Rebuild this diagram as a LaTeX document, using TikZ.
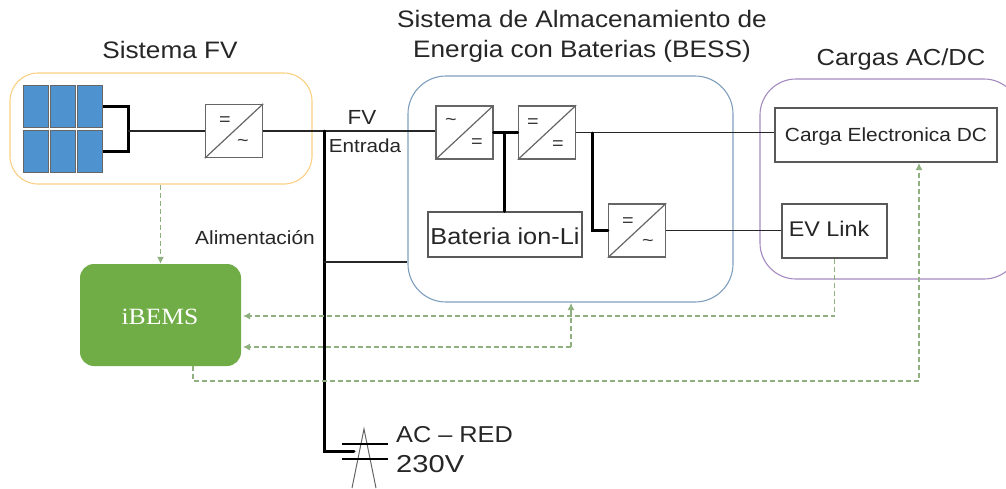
\documentclass[tikz,border=0pt]{standalone}
\usepackage{fontspec}
\setmainfont[FakeStretch=1.1]{Liberation Sans}
\newfontfamily\emsfont[FakeStretch=1.1]{Liberation Serif}
\usepackage{tikz}
\usetikzlibrary{arrows,arrows.meta,positioning}

\definecolor{fvorange}{HTML}{FBCF83}
\definecolor{bessblue}{HTML}{7F9FBE}
\definecolor{loadpurple}{HTML}{A58BC0}
\definecolor{emsgreen}{HTML}{70AD47}
\definecolor{sigreen}{HTML}{5F9048}
\definecolor{panelblue}{HTML}{4F92D0}

\tikzset{
  group/.style={draw=#1,line width=1.1pt,rounded corners=28pt},
  conv/.style={draw=black!60,line width=1.4pt,fill=white,minimum width=57pt,minimum height=53pt,inner sep=0pt},
  load/.style={draw=black!65,line width=1.5pt,fill=white,inner sep=0pt},
  panel/.style={draw=black!60,line width=1pt,fill=panelblue,minimum width=25pt,minimum height=42pt,inner sep=0pt},
  symb/.style={font=\fontsize{18}{18}\selectfont,inner sep=0pt,text=black!80},
  wire/.style={line width=1.5pt,black!85},
  bus/.style={line width=3pt,black,line cap=round},
  signal/.style={dash pattern=on 5pt off 3pt,sigreen!70,line width=1.1pt,-{Latex[length=7pt,width=7pt]}},
  lab/.style={inner sep=0pt,align=center,text=black!85,font=\fontsize{#1}{#1}\selectfont}
}

\begin{document}
\begin{tikzpicture}[x=1pt,y=-1pt]
  \useasboundingbox (0,0) rectangle (1006,488);

  % group frames
  \node[group=fvorange,minimum width=302pt,minimum height=111pt,inner sep=0pt] (fvgroup) at (161,128.5) {};
  \node[group=bessblue,minimum width=325pt,minimum height=226pt,inner sep=0pt,rounded corners=38pt] (bessgroup) at (570.5,189) {};
  \node[group=loadpurple,minimum width=260pt,minimum height=200pt,inner sep=0pt,rounded corners=36pt] (loadgroup) at (890,179) {};

  % titles
  \node[lab=23.8] (fvtitle) at (170,50) {Sistema FV};
  \node[lab=23.8] (besstitle) at (582,36) {Sistema de Almacenamiento de\\[6pt]Energia con Baterias (BESS)};
  \node[lab=23.2] (loadtitle) at (901,59) {Cargas AC/DC};

  % panels
  \foreach \c/\px in {1/35.5,2/62.5,3/90}
    \foreach \r/\py in {1/106,2/151}
      \node[panel] (panel-\c-\r) at (\px,\py) {};

  % converters
  \node[conv] (pvconv) at (234,131) {};
  \node[conv] (acdc) at (464.5,132.5) {};
  \node[conv,right=24pt of acdc] (dcdc) {};
  \node[conv] (dcac) at (637,230.5) {};
  \foreach \n in {pvconv,acdc,dcdc,dcac}
    \draw[black!60,line width=1.2pt] (\n.south west) -- (\n.north east);

  \node[symb] (pvin) at (225,121) {=};
  \node[symb] (pvout) at (243,143) {\textasciitilde};
  \node[symb] (acdcin) at (451,122) {\textasciitilde};
  \node[symb] (acdcout) at (477,143) {=};
  \node[symb] (dcdcin) at (533,123) {=};
  \node[symb] (dcdcout) at (558,145) {=};
  \node[symb] (dcacin) at (628,222) {=};
  \node[symb] (dcacout) at (648,243) {\textasciitilde};

  % boxes
  \node[load,minimum width=154pt,minimum height=45pt] (batt) at (505,234.5) {};
  \node[lab=23] (batttext) at (505,236.5) {Bateria ion-Li};
  \node[load,minimum width=222pt,minimum height=54pt] (dcload) at (886,135) {};
  \node[lab=19] (dcloadtext) at (886,137) {Carga Electronica DC};
  \node[load,minimum width=105pt,minimum height=54pt] (evlink) at (834.5,231) {};
  \node[lab=21.2] (evtext) at (829,229) {EV Link};
  \node[fill=emsgreen,rounded corners=14pt,minimum width=161pt,minimum height=102pt] (ibems) at (160.5,315) {};
  \node[text=white,inner sep=0pt,font=\emsfont\fontsize{23.3}{23.3}\selectfont] (ibemstext) at (160,317) {iBEMS};

  % helper points
  \coordinate (pvjoin) at (128,131);
  \coordinate (bustop) at (324,131);
  \coordinate (busmid) at (324,262);
  \coordinate (busend) at (354,451);
  \coordinate (dcjoin) at (504,133);
  \coordinate (acjoin) at (592,133);

  % power lines
  \draw[bus,line cap=butt] (panel-3-1.east) -| (pvjoin) |- (panel-3-2.east);
  \draw[wire] (pvjoin) -- (pvconv.west);
  \draw[wire] (pvconv.east) -- (bustop) -- (bustop -| acdc.west);
  \draw[bus] (bustop) |- (busend);
  \draw[wire] (busmid) -- (busmid -| bessgroup.west);
  \draw[bus] (acdc.east) -- (dcdc.west);
  \draw[bus] (dcjoin) -- (dcjoin |- batt.north);
  \draw[wire] (dcdc.east) -- (dcdc.east -| dcload.west);
  \draw[bus] (acjoin) |- (dcac.west);
  \draw[wire] (dcac.east) -- (dcac.east -| evlink.west);

  % signals
  \draw[signal] (fvgroup.south -| ibems) -- (ibems.north);
  \draw[signal] (evlink.south) |- (243,316);
  \draw[signal] (571,347) -- (571,303);
  \draw[signal] (571,347) -- (243,347);
  \draw[signal] (193,366) |- (919,381) -- (919,163);

  % grid tower
  \coordinate (towertop) at (364,429);
  \draw[black!60,line width=1pt] (352,488) -- (towertop) -- (376,488);
  \draw[black,line width=1.2pt] (342,444) -- (388,444) (342,459) -- (388,459);

  % remaining labels
  \node[lab=20.4] (fvlab) at (362,117) {FV};
  \node[lab=18.8] (inlab) at (365,146) {Entrada};
  \node[lab=19] (alab) at (255,238) {Alimentación};
  \node[lab=23,anchor=west] (redlab) at (396,435) {AC – RED};
  \node[lab=24.5,anchor=west,xscale=1.08] (vlab) at (396,464) {230V};
\end{tikzpicture}
\end{document}
